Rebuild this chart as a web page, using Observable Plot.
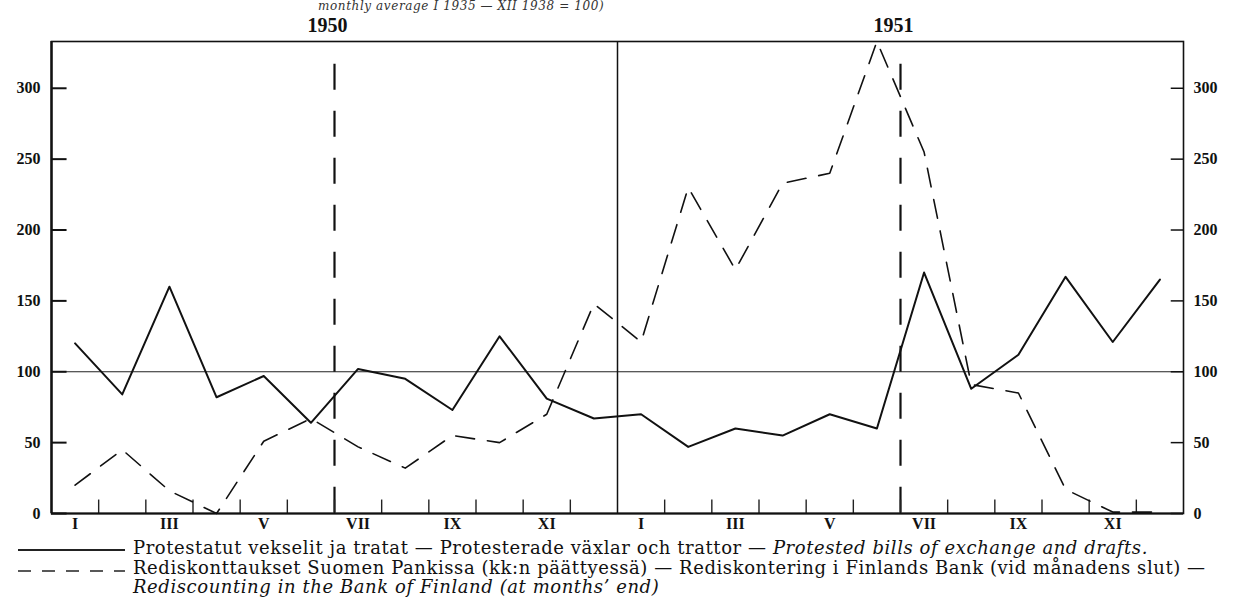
<!DOCTYPE html>
<html>
<head>
<meta charset="utf-8">
<script src="https://cdn.jsdelivr.net/npm/d3@7"></script>
<script src="https://cdn.jsdelivr.net/npm/@observablehq/plot@0.6"></script>
<style>
  html, body { margin: 0; padding: 0; background: #ffffff; }
  body { width: 1238px; height: 611px; position: relative; overflow: hidden; color: #111; }
  #chart { position: absolute; left: 0; top: 0; }
  #sub { position: absolute; left: 318px; top: 0px; font-family: "DejaVu Serif", "Liberation Serif", serif; font-style: italic; font-size: 12px; line-height: 12px; white-space: nowrap; color: #333; letter-spacing: 0.6px; }
  #legend { position: absolute; left: 0; top: 538px; width: 1238px; font-family: "DejaVu Serif", "Liberation Serif", serif; font-size: 16px; line-height: 19.5px; }
  .row { position: relative; height: 19.5px; white-space: nowrap; }
  .row svg { position: absolute; left: 0; top: 0; }
  .row .txt { position: absolute; left: 133px; top: 0; }
</style>
</head>
<body>
<div id="sub">monthly average I 1935 — XII 1938 = 100)</div>
<div id="chart"></div>
<div id="legend"></div>
<script>
// ---- data ----
const years = [1950, 1951];
const months = ["I","II","III","IV","V","VI","VII","VIII","IX","X","XI","XII"];
const protested1950 = [120, 84, 160, 82, 97, 64, 102, 95, 73, 125, 81, 67];
const protested1951 = [70, 47, 60, 55, 70, 60, 170, 88, 112, 167, 121, 165];
const rediscount1950 = [20, 45, 16, 0, 51, 67, 47, 32, 55, 50, 70, 148];
const rediscount1951 = [121, 230, 172, 233, 240, 333, 255, 91, 85, 17, 1, 1];
const yTicks = [0, 50, 100, 150, 200, 250, 300];
const baseIndex = 100;
const legendSolid = ["Protestatut vekselit ja tratat — Protesterade växlar och trattor — ", "Protested bills of exchange and drafts."];
const legendDashed = ["Rediskonttaukset Suomen Pankissa (kk:n päättyessä) — Rediskontering i Finlands Bank (vid månadens slut) —", "Rediscounting in the Bank of Finland (at months’ end)"];

// ---- table ----
const protested = [protested1950, protested1951];
const rediscount = [rediscount1950, rediscount1951];
const data = years.flatMap((yr, yi) => months.map((m, mi) => ({
  t: yi * 12 + mi + 0.5,
  month: m,
  protested: protested[yi][mi],
  rediscount: rediscount[yi][mi]
})));
const boundaries = d3.range(1, 24).filter(b => b !== 12);
const labelled = data.filter((d, i) => i % 2 === 0);
const yearMarks = years.map((yr, i) => ({year: String(yr), t: 6 + 12 * i}));
const yMax = 333;

const chart = Plot.plot({
  width: 1238,
  height: 540,
  marginLeft: 51,
  marginRight: 55,
  marginTop: 41,
  marginBottom: 27,
  style: {fontFamily: "Liberation Serif, serif", background: "transparent", color: "#111"},
  x: {domain: [0, 24], axis: null},
  y: {domain: [0, yMax], axis: null},
  marks: [
    Plot.ruleY([baseIndex], {stroke: "#222", strokeWidth: 1}),
    Plot.ruleX([12], {stroke: "#111", strokeWidth: 1.5}),
    Plot.ruleX(yearMarks, {x: "t", y1: 317, y2: 0, stroke: "#111", strokeWidth: 2.2, strokeDasharray: "26,21"}),
    Plot.ruleX(boundaries, {y1: 0, y2: 9.5, stroke: "#222", strokeWidth: 1.4}),
    Plot.ruleY(yTicks, {x1: 0, x2: 0.33, stroke: "#111", strokeWidth: 2}),
    Plot.ruleY(yTicks, {x1: 23.74, x2: 24, stroke: "#111", strokeWidth: 1.5}),
    Plot.frame({stroke: "#111", strokeWidth: 1.6}),
    Plot.ruleX([0], {stroke: "#111", strokeWidth: 2.4}),
    Plot.ruleY([0], {stroke: "#111", strokeWidth: 2}),
    Plot.axisY({anchor: "left", ticks: yTicks, tickSize: 0, tickPadding: 11, fontSize: 16, fontWeight: "bold"}),
    Plot.axisY({anchor: "right", ticks: yTicks, tickSize: 0, tickPadding: 10, fontSize: 16, fontWeight: "bold"}),
    Plot.text(labelled, {x: "t", text: "month", frameAnchor: "bottom", dy: 15, fontSize: 16, fontWeight: "bold"}),
    Plot.text(yearMarks, {x: "t", text: "year", frameAnchor: "top", lineAnchor: "bottom", dy: -10, dx: -7, fontSize: 20, fontWeight: "bold"}),
    Plot.line(data, {x: "t", y: "rediscount", stroke: "#111", strokeWidth: 1.6, strokeDasharray: "19,13"}),
    Plot.line(data, {x: "t", y: "protested", stroke: "#111", strokeWidth: 2})
  ]
});
document.getElementById("chart").appendChild(chart);

// ---- legend ----
const legend = d3.select("#legend");
function row(kind, parts) {
  const r = legend.append("div").attr("class", "row");
  if (kind) {
    const s = r.append("svg").attr("width", 130).attr("height", 20);
    s.append("line").attr("x1", 18).attr("x2", 125).attr("y1", kind === "solid" ? 12 : 13).attr("y2", kind === "solid" ? 12 : 13)
      .attr("stroke", "#222").attr("stroke-width", kind === "solid" ? 2 : 1.3)
      .attr("stroke-dasharray", kind === "solid" ? null : "13,11");
  }
  const t = r.append("span").attr("class", "txt")
    .style("font-family", "'DejaVu Serif', 'Liberation Serif', serif");
  parts.forEach(p => t.append("span").style("font-style", p.italic ? "italic" : "normal").text(p.text));
  return t;
}
const r1 = row("solid", [{text: legendSolid[0]}, {text: legendSolid[1], italic: true}]);
const r2 = row("dashed", [{text: legendDashed[0]}]);
const r3 = row(null, [{text: legendDashed[1], italic: true}]);

// fit the font size so the first row spans like the original
const w = r1.node().getBoundingClientRect().width;
const fs = Math.min(18, 16 * 1015 / w);
document.getElementById("legend").style.fontSize = fs.toFixed(2) + "px";
const w2 = r1.node().getBoundingClientRect().width;
const ls = Math.max(0, (1015 - w2) / (legendSolid[0] + legendSolid[1]).length);
[r1, r2, r3].forEach(r => r.style("letter-spacing", ls.toFixed(3) + "px"));
</script>
</body>
</html>
